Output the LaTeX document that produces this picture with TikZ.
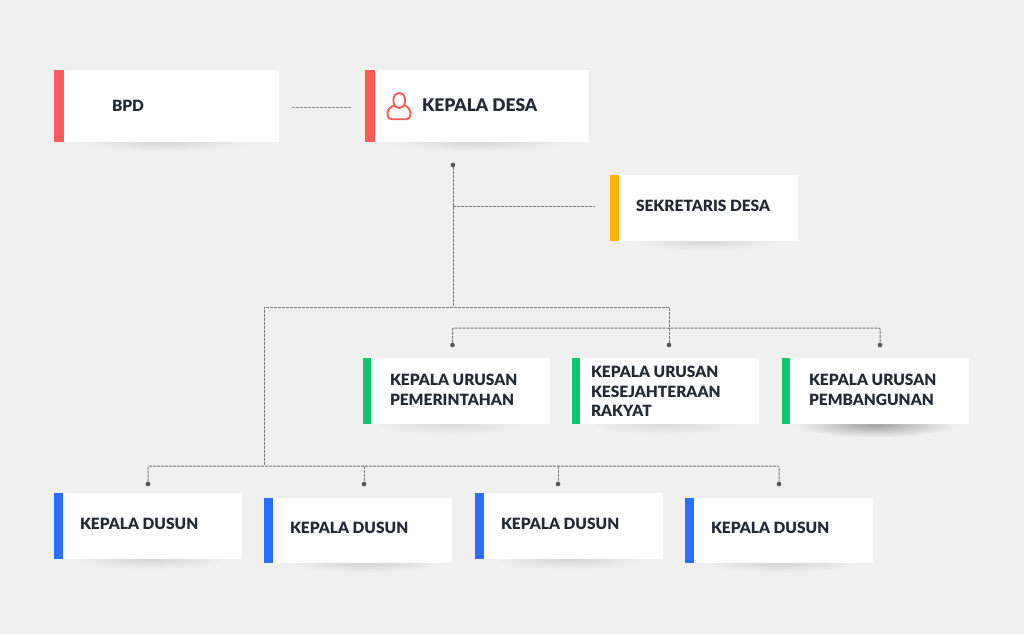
\documentclass[tikz,border=0pt]{standalone}
\usepackage{fontspec}
\newfontfamily\heavyfont{Lato Black}
\definecolor{bg}{HTML}{F0F0F0}
\definecolor{ink}{HTML}{232A33}
\definecolor{redbar}{HTML}{FF5A5A}
\definecolor{yellowbar}{HTML}{FFB400}
\definecolor{greenbar}{HTML}{0DC670}
\definecolor{bluebar}{HTML}{2970FF}
\definecolor{linegray}{HTML}{777777}
\definecolor{dotgray}{HTML}{555555}
\tikzset{
  x=1pt,y=-1pt,
  cardbox/.style={fill=white,draw=none,inner sep=0pt,outer sep=0pt,anchor=north west},
  barbox/.style={draw=none,inner sep=0pt,outer sep=0pt,anchor=north west},
  lbl/.style={text=ink,font=\fontsize{15.5}{20}\selectfont\heavyfont,inner sep=0pt,outer sep=0pt,anchor=west,align=left},
  lblbig/.style={lbl,font=\fontsize{17.4}{20}\selectfont\heavyfont},
  conn/.style={draw=linegray,line width=1pt,dash pattern=on 3pt off 1pt},
  connlight/.style={draw=linegray!85,line width=1pt,dash pattern=on 3pt off 1pt},
  dot/.style={circle,fill=dotgray,draw=none,minimum size=4.6pt,inner sep=0pt,outer sep=0pt},
  shadowblob/.style={inner color=#1,outer color=bg,draw=none}
}
\newcommand{\softshadow}[5]{% left,right,top,bottom,colour
  \shade[shadowblob=#5] (#1,#3) rectangle (#2,#4);}
\newcommand{\card}[7]{% name,x1,y1,x2,y2,barwidth,colour
  \node[cardbox,minimum width=#4-#2,minimum height=#5-#3] (#1) at (#2,#3) {};
  \node[barbox,fill=#7,minimum width=#6,minimum height=#5-#3] (#1bar) at (#2,#3) {};}
\begin{document}
\begin{tikzpicture}
\fill[bg] (0,0) rectangle (1024,634);
\useasboundingbox (0,0) rectangle (1024,634);
% shadows
\softshadow{75}{255}{131}{151}{black!17}
\softshadow{385}{570}{131}{151}{black!17}
\softshadow{630}{780}{231}{251}{black!15}
\softshadow{375}{525}{414}{434}{black!15}
\softshadow{590}{740}{414}{434}{black!15}
\softshadow{795}{955}{413}{437}{black!36}
\softshadow{75}{225}{549}{569}{black!17}
\softshadow{290}{440}{553}{573}{black!17}
\softshadow{495}{645}{549}{569}{black!17}
\softshadow{705}{855}{553}{573}{black!17}
% cards
\card{bpd}{54}{70}{279}{141.5}{9.5}{redbar}
\card{kades}{365}{70}{589}{141.5}{9.5}{redbar}
\card{sek}{610}{175}{798}{241}{8.5}{yellowbar}
\card{kur1}{363}{358}{550}{424}{8}{greenbar}
\card{kur2}{572}{358}{759}{424}{8}{greenbar}
\card{kur3}{782}{358}{969}{424}{8}{greenbar}
\card{dus1}{54}{493}{242}{559}{8.5}{bluebar}
\card{dus2}{264}{497.5}{452}{563}{8.5}{bluebar}
\card{dus3}{475}{493}{663}{559}{8.5}{bluebar}
\card{dus4}{685}{497.5}{873}{563}{8.5}{bluebar}
% labels
\node[lbl] (tbpd) at (112,105.5) {BPD};
\node[lblbig] (tkades) at (422,105.5) {KEPALA DESA};
\node[lbl] (tsek) at (636,205.5) {SEKRETARIS DESA};
\node[lbl] (tk1a) at (390,379.5) {KEPALA URUSAN};
\node[lbl] (tk1b) at (390,399.5) {PEMERINTAHAN};
\node[lbl] (tk2a) at (591,371.5) {KEPALA URUSAN};
\node[lbl] (tk2b) at (591,391.5) {KESEJAHTERAAN};
\node[lbl] (tk2c) at (591,410.5) {RAKYAT};
\node[lbl] (tk3a) at (809,379.5) {KEPALA URUSAN};
\node[lbl] (tk3b) at (809,399.5) {PEMBANGUNAN};
\node[lbl] (td1) at (80,523.5) {KEPALA DUSUN};
\node[lbl] (td2) at (290,528) {KEPALA DUSUN};
\node[lbl] (td3) at (501,523.5) {KEPALA DUSUN};
\node[lbl] (td4) at (711,528) {KEPALA DUSUN};
% person icon
\draw[redbar,line width=1.9pt,rounded corners=5.5pt] (393.5,93) rectangle (405,108);
\draw[redbar,line width=1.9pt,line join=round]
  (393.5,105.5) .. controls (389,107.5) and (387.5,110.5) .. (387.5,114.5)
  .. controls (387.5,117.5) and (389,119.2) .. (392,119.2) -- (406,119.2)
  .. controls (409,119.2) and (410.5,117.5) .. (410.5,114.5)
  .. controls (410.5,110.5) and (409,107.5) .. (405,105.5);
% connector anchors
\node[dot] (dtop) at (453,165) {};
\node[dot] (dk1) at (452.5,345) {};
\node[dot] (dk2) at (669,345) {};
\node[dot] (dk3) at (880,345) {};
\node[dot] (dd1) at (148,484) {};
\node[dot] (dd2) at (364,484) {};
\node[dot] (dd3) at (558,484) {};
\node[dot] (dd4) at (779,484) {};
\coordinate (bpdend) at (292,107.5);
\coordinate (kadesend) at (351,107.5);
\coordinate (sekend) at (595,206);
\coordinate (jsek) at (453,206);
\coordinate (jmain) at (453,307);
\coordinate (jleft) at (264,307);
\coordinate (jdus) at (264,466);
\coordinate (jk2) at (669,328);
% connectors
\path[connlight] (bpdend) -- (kadesend);
\path[conn] (dtop) -- (jmain);
\path[conn] (jsek) -- (sekend);
\path[conn] (dk2) -- (jk2) |- (jmain) -- (jleft) -- (jdus);
\path[conn,rounded corners=1pt] (dk1) |- (jk2) -| (dk3);
\path[conn,rounded corners=1pt] (dd1) |- (jdus) -| (dd4);
\path[conn] (dd2 |- jdus) -- (dd2);
\path[conn] (dd3 |- jdus) -- (dd3);
\end{tikzpicture}
\end{document}
